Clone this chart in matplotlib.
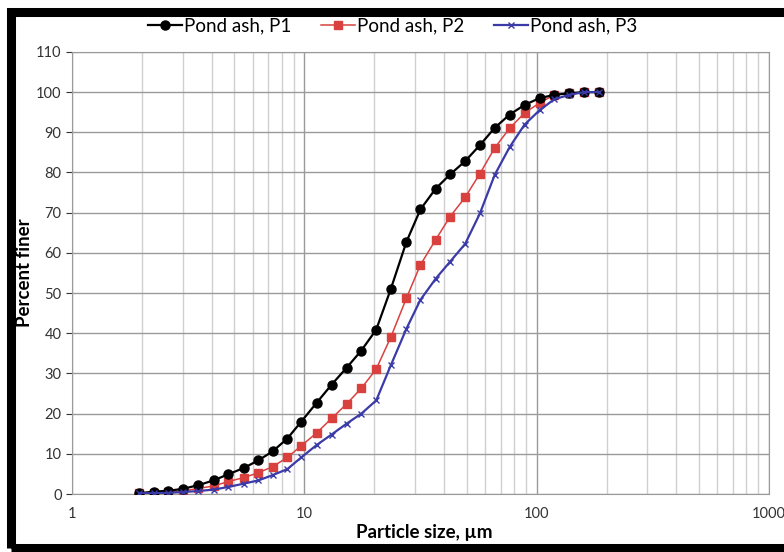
import matplotlib
matplotlib.use("Agg")
import matplotlib.pyplot as plt
from matplotlib.patches import Rectangle
from matplotlib.ticker import FixedLocator, LogLocator, NullFormatter

plt.rcParams['font.family'] = ['Lato', 'DejaVu Sans']

# particle sizes (um)
size_um = [1.95, 2.25, 2.6, 3.0, 3.5, 4.07, 4.7, 5.5, 6.35, 7.3, 8.45, 9.7,
           11.3, 13.1, 15.2, 17.6, 20.4, 23.6, 27.5, 31.6, 36.8, 42.4, 49.2,
           57.0, 66.0, 76.5, 88.7, 103, 119, 138, 160, 185]

p1 = [0.2, 0.6, 0.8, 1.3, 2.2, 3.4, 4.9, 6.5, 8.4, 10.6, 13.8, 18.0,
      22.7, 27.2, 31.4, 35.7, 40.9, 51.1, 62.7, 70.8, 76.0, 79.5, 82.8,
      86.8, 91.1, 94.4, 96.8, 98.5, 99.3, 99.7, 100, 100]

p2 = [0.2, 0.3, 0.5, 0.75, 1.4, 2.0, 3.1, 4.1, 5.3, 6.8, 9.1, 12.0,
      15.2, 18.8, 22.4, 26.3, 31.1, 39.1, 48.7, 57.0, 63.3, 69.0, 73.8,
      79.7, 86.1, 91.0, 94.8, 97.3, 99.3, 99.7, 99.9, 100]

p3 = [0.2, 0.2, 0.3, 0.5, 0.75, 1.1, 1.75, 2.6, 3.4, 4.7, 6.2, 9.1,
      12.2, 14.8, 17.5, 20.0, 23.3, 32.1, 41.1, 48.3, 53.6, 57.8, 62.2,
      69.8, 79.4, 86.3, 91.9, 95.5, 98.2, 99.3, 100, 100]

labels = ["Pond ash, P1", "Pond ash, P2", "Pond ash, P3"]
x_ticks = [1, 10, 100, 1000]
y_ticks = list(range(0, 111, 10))

fig = plt.figure(figsize=(7.84, 5.52), dpi=100)
ax = fig.add_axes([0.0918, 0.105, 0.889, 0.801])

ax.plot(size_um, p1, color="black", lw=1.6, marker="o", ms=6.5, label=labels[0], zorder=5)
ax.plot(size_um, p2, color="#d9413f", lw=1.1, marker="s", ms=6, label=labels[1], zorder=4)
ax.plot(size_um, p3, color="#3b3ba8", lw=1.6, marker="x", ms=5, mew=1.0, label=labels[2], zorder=6)

ax.set_xscale("log")
ax.set_xlim(1, 1000)
ax.set_ylim(0, 110)
ax.xaxis.set_major_locator(FixedLocator(x_ticks))
ax.set_xticklabels([str(t) for t in x_ticks])
ax.xaxis.set_minor_locator(LogLocator(base=10, subs=range(2, 10)))
ax.xaxis.set_minor_formatter(NullFormatter())
ax.set_yticks(y_ticks)

ax.grid(True, which="major", color="#9a9a9a", lw=1.0)
ax.grid(True, which="minor", axis="x", color="#d0d0d0", lw=1.0)
ax.set_axisbelow(True)
for side in ["top", "right", "bottom", "left"]:
    ax.spines[side].set_color("#9a9a9a")
ax.tick_params(axis="both", labelsize=10.5, colors="#333333", length=4)
ax.tick_params(axis="x", length=0, pad=9)
ax.tick_params(axis="x", which="minor", length=0)

ax.set_xlabel("Particle size, µm", fontsize=13.5, fontweight="bold")
ax.xaxis.set_label_coords(0.505, -0.068)
ax.set_ylabel("Percent finer", fontsize=13.5, fontweight="bold")
ax.yaxis.set_label_coords(-0.056, 0.5)

ax.legend(loc="center", bbox_to_anchor=(0.46, 1.059), ncol=3, frameon=False,
          fontsize=13.5, handlelength=1.8, handletextpad=0.1, columnspacing=1.6,
          borderaxespad=0.0)

# thick black frame around the figure
fig.patches.append(Rectangle((11 / 784, 4 / 552), 1.2, 536 / 552, transform=fig.transFigure,
                             fill=False, edgecolor="black", lw=6.5, zorder=-1))

fig.savefig("out.png", dpi=100)
